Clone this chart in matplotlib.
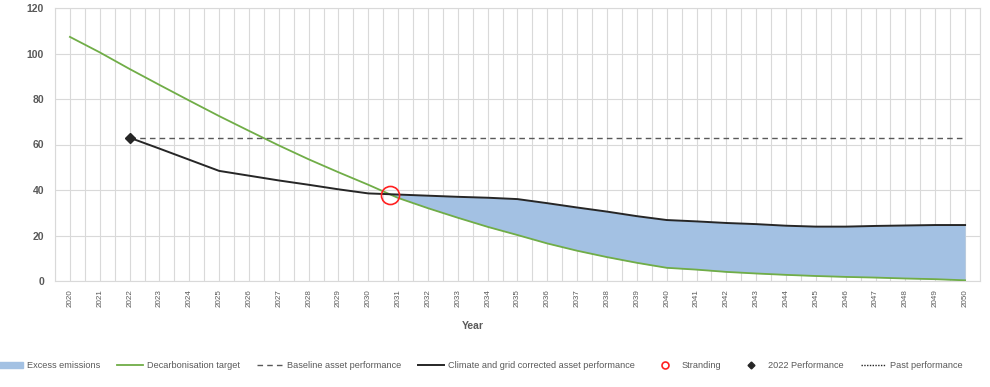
import matplotlib
matplotlib.use('Agg')
import matplotlib.pyplot as plt
import numpy as np
from matplotlib.lines import Line2D
from matplotlib.patches import Patch

plt.rcParams['font.family'] = ['Liberation Sans', 'DejaVu Sans']

years = list(range(2020, 2051))
target = [107.3, 100.5, 93.2, 86.2, 79.3, 72.5, 66.0, 59.6, 53.5, 47.8,
          42.3, 36.5, 32.0, 27.8, 23.8, 20.2, 16.5, 13.3, 10.5, 8.0,
          5.8, 5.0, 4.0, 3.3, 2.7, 2.2, 1.8, 1.5, 1.1, 0.8, 0.3]
perf_years = list(range(2022, 2051))
corrected = [63.0, 58.2, 53.3, 48.4, 46.3, 44.2, 42.3, 40.3, 38.5, 38.0,
             37.5, 37.0, 36.6, 36.0, 34.2, 32.3, 30.5, 28.5, 26.8, 26.2,
             25.5, 25.0, 24.3, 23.9, 23.9, 24.2, 24.4, 24.6, 24.6]
baseline = 63.0
stranding_year = 2030.73
stranding_value = 37.8
perf_2022 = 63.0

grey = '#595959'
fig = plt.figure(figsize=(9.9, 3.87), dpi=100)
ax = fig.add_axes([55/990, 1-281/387, 925/990, 273/387])

# excess emissions area
tgt = np.array(target[2:])
cor = np.array(corrected)
py = np.array(perf_years)
ax.fill_between(py, tgt, cor, where=(cor >= tgt) & (py >= 2030), interpolate=True,
                color='#a3c1e3', linewidth=0, zorder=2)

ax.plot(years, target, color='#70ad47', lw=1.3, zorder=3)
ax.plot([2022, 2050], [baseline, baseline], color=grey, lw=1.0, ls=(0, (4, 3)), zorder=3)
ax.plot(perf_years, corrected, color='#262626', lw=1.4, zorder=4)
ax.plot([stranding_year], [stranding_value], 'o', mfc='none', mec='#ff2020', ms=13, mew=1.2, zorder=5)
ax.plot([2022], [perf_2022], 'D', color='#262626', ms=5, zorder=5)

ax.set_xlim(2019.5, 2050.5)
ax.set_ylim(0, 120)
ax.set_yticks(range(0, 121, 20))
ax.set_xticks(years)
ax.set_xticks(np.arange(2019.5, 2051, 1), minor=True)
ax.set_xticklabels([str(y) for y in years], rotation=90, fontsize=5.8, color=grey)
ax.tick_params(axis='y', labelsize=7.5, colors=grey, length=0, pad=8)
ax.tick_params(axis='x', which='both', length=0, pad=6)
for lab in ax.get_yticklabels():
    lab.set_fontweight('bold')
ax.grid(True, which='both', color='#d9d9d9', lw=0.8, zorder=0)
ax.set_axisbelow(True)
for s in ax.spines.values():
    s.set_color('#d9d9d9')
    s.set_linewidth(0.8)

fig.text(473/990, 1-326/387, 'Year', ha='center', va='center', fontsize=7.5,
         fontweight='bold', color=grey)

handles = [Patch(color='#a3c1e3', label='Excess emissions'),
           Line2D([], [], color='#70ad47', lw=1.3, label='Decarbonisation target'),
           Line2D([], [], color=grey, lw=1.0, ls=(0, (4, 3)), label='Baseline asset performance'),
           Line2D([], [], color='#262626', lw=1.4, label='Climate and grid corrected asset performance'),
           Line2D([], [], ls='none', marker='o', mfc='none', mec='#ff2020', ms=5, mew=1.2, label='Stranding'),
           Line2D([], [], ls='none', marker='D', color='#262626', ms=3.5, label='2022 Performance'),
           Line2D([], [], color='#262626', lw=1.0, ls=(0, (1, 1)), label='Past performance')]
leg = fig.legend(handles=handles, loc='center', bbox_to_anchor=(480/990, 1-366/387), ncol=7,
                 frameon=False, fontsize=6.6, handlelength=2.8, handletextpad=0.4,
                 columnspacing=1.9, handleheight=0.6, borderaxespad=0, borderpad=0)
for t in leg.get_texts():
    t.set_color(grey)

fig.savefig('out.png', dpi=100)
